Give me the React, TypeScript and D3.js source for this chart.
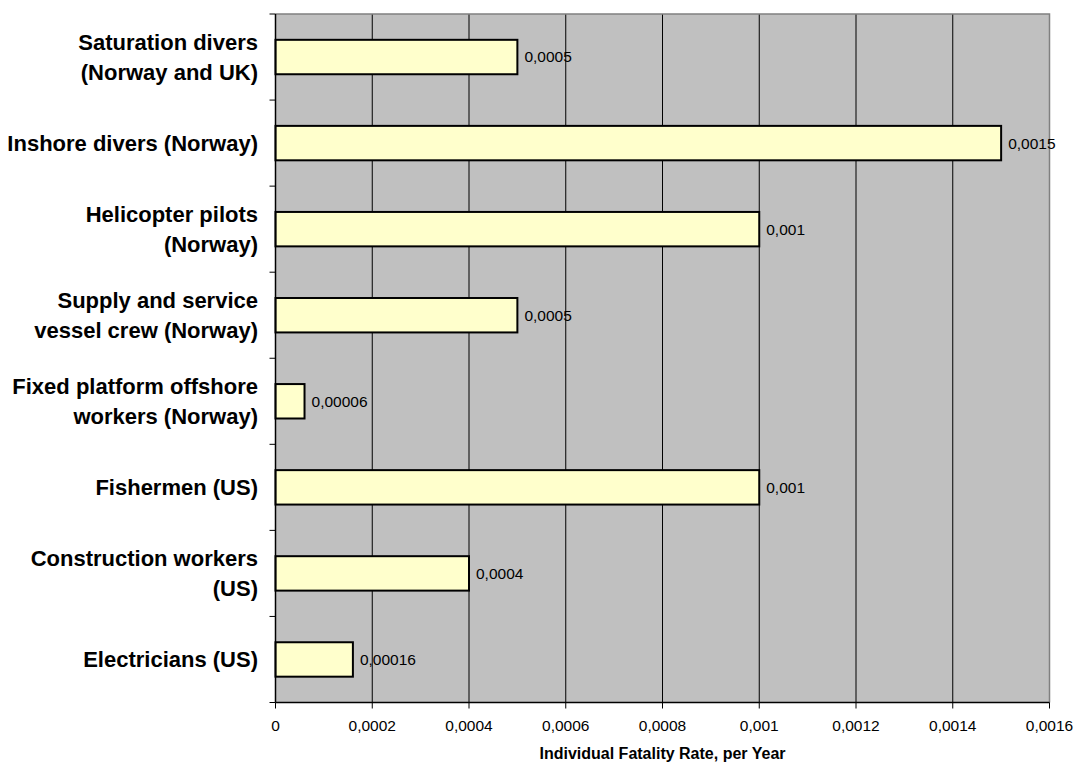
import React from "react";
import * as d3 from "d3";

// Occupational fatality rates, per person per year
const categories = [
  "Saturation divers\n(Norway and UK)",
  "Inshore divers (Norway)",
  "Helicopter pilots\n(Norway)",
  "Supply and service\nvessel crew (Norway)",
  "Fixed platform offshore\nworkers (Norway)",
  "Fishermen (US)",
  "Construction workers\n(US)",
  "Electricians (US)",
];
const rates = [0.0005, 0.0015, 0.001, 0.0005, 0.00006, 0.001, 0.0004, 0.00016];
const xTicks = [0, 0.0002, 0.0004, 0.0006, 0.0008, 0.001, 0.0012, 0.0014, 0.0016];
const xTitle = "Individual Fatality Rate, per Year";

const W = 1076;
const H = 763;
const plot = { left: 275.5, right: 1049.5, top: 14, bottom: 702.5 };
const FONT = "'Liberation Sans', Arial, Helvetica, sans-serif";

const decimalComma = (v: number) => String(v).replace(".", ",");

export default function App() {
  const x = d3.scaleLinear().domain([0, 0.0016]).range([plot.left, plot.right]);
  const y = d3
    .scaleBand<number>()
    .domain(d3.range(categories.length))
    .range([plot.top, plot.bottom])
    .paddingInner(0.6)
    .paddingOuter(0.3);
  const step = (plot.bottom - plot.top) / categories.length;
  const boundaries = d3.range(categories.length + 1).map((i) => plot.top + i * step);

  return (
    <svg
      width={W}
      height={H}
      style={{ position: "absolute", left: 0, top: 0, display: "block", background: "#fff" }}
      fontFamily={FONT}
    >
      {/* plot background */}
      <rect
        x={plot.left}
        y={plot.top}
        width={plot.right - plot.left}
        height={plot.bottom - plot.top}
        fill="#C0C0C0"
      />
      {/* vertical gridlines */}
      {xTicks.slice(1, -1).map((t) => (
        <line key={t} x1={x(t)} x2={x(t)} y1={plot.top} y2={plot.bottom} stroke="#000" strokeWidth={1} />
      ))}
      {/* top and right frame */}
      <path
        d={`M${plot.left},${plot.top}H${plot.right}V${plot.bottom}`}
        fill="none"
        stroke="#808080"
        strokeWidth={1.5}
      />
      {/* bars */}
      {rates.map((v, i) => (
        <rect
          key={i}
          x={x(0)}
          y={y(i)!}
          width={x(v) - x(0)}
          height={y.bandwidth()}
          fill="#FFFFCC"
          stroke="#000"
          strokeWidth={2}
        />
      ))}
      {/* value labels */}
      {rates.map((v, i) => (
        <text
          key={i}
          x={x(v) + 7}
          y={y(i)! + y.bandwidth() / 2}
          dy="0.35em"
          fontSize={15.5}
          fill="#000"
        >
          {decimalComma(v)}
        </text>
      ))}
      {/* y axis */}
      <line x1={plot.left} x2={plot.left} y1={plot.top} y2={plot.bottom} stroke="#000" strokeWidth={1.5} />
      {boundaries.map((b, i) => (
        <line key={i} x1={plot.left - 6} x2={plot.left} y1={b} y2={b} stroke="#000" strokeWidth={1} />
      ))}
      {categories.map((c, i) => {
        const lines = c.split("\n");
        const cy = y(i)! + y.bandwidth() / 2;
        const lh = 30;
        return (
          <text
            key={i}
            x={258}
            textAnchor="end"
            fontSize={22}
            fontWeight="bold"
            fill="#000"
          >
            {lines.map((l, j) => (
              <tspan key={j} x={258} y={cy + (j - (lines.length - 1) / 2) * lh} dy="0.35em">
                {l}
              </tspan>
            ))}
          </text>
        );
      })}
      {/* x axis */}
      <line x1={plot.left} x2={plot.right} y1={plot.bottom} y2={plot.bottom} stroke="#000" strokeWidth={1.5} />
      {xTicks.map((t) => (
        <g key={t}>
          <line x1={x(t)} x2={x(t)} y1={plot.bottom} y2={plot.bottom + 6} stroke="#000" strokeWidth={1} />
          <text x={x(t)} y={726} dy="0.35em" textAnchor="middle" fontSize={15.5} fill="#000">
            {decimalComma(t)}
          </text>
        </g>
      ))}
      <text
        x={(plot.left + plot.right) / 2}
        y={759}
        textAnchor="middle"
        fontSize={16}
        fontWeight="bold"
        fill="#000"
      >
        {xTitle}
      </text>
    </svg>
  );
}
